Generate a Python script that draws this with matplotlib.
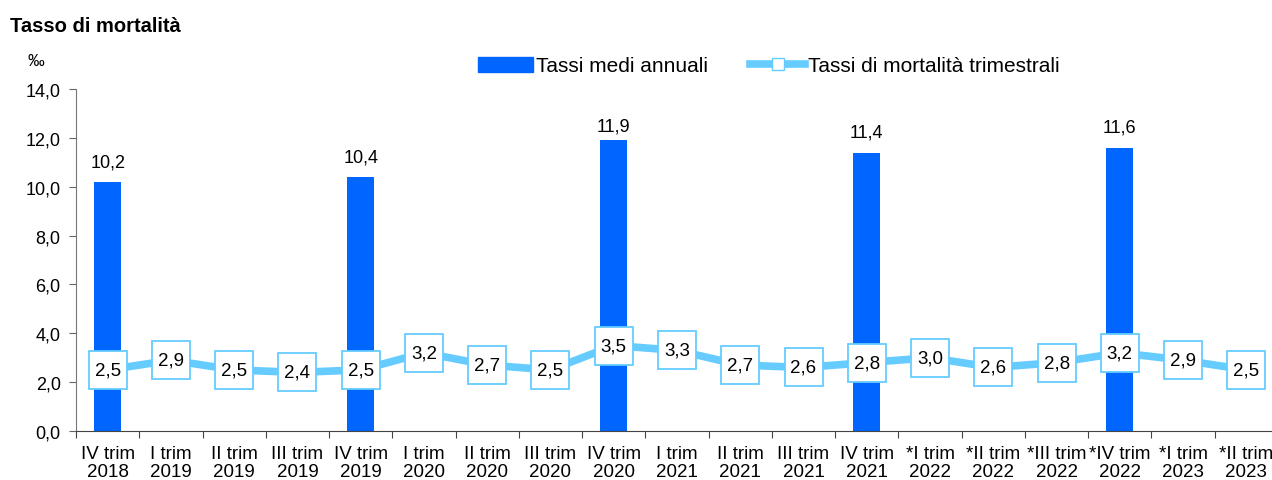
import matplotlib.pyplot as plt
from matplotlib.lines import Line2D
from matplotlib.patches import Patch

plt.rcParams['font.family'] = ['Liberation Sans', 'DejaVu Sans']

categories = ['IV trim\n2018', 'I trim\n2019', 'II trim\n2019', 'III trim\n2019', 'IV trim\n2019',
              'I trim\n2020', 'II trim\n2020', 'III trim\n2020', 'IV trim\n2020', 'I trim\n2021',
              'II trim\n2021', 'III trim\n2021', 'IV trim\n2021', '*I trim\n2022', '*II trim\n2022',
              '*III trim\n2022', '*IV trim\n2022', '*I trim\n2023', '*II trim\n2023']
trimestrali = [2.5, 2.9, 2.5, 2.4, 2.5, 3.2, 2.7, 2.5, 3.5, 3.3, 2.7, 2.6, 2.8, 3.0, 2.6, 2.8, 3.2, 2.9, 2.5]
annual_idx = [0, 4, 8, 12, 16]
annuali = [10.2, 10.4, 11.9, 11.4, 11.6]

bar_col = '#0066FF'
line_col = '#66CCFF'


def fmt(v):
    return f'{v:.1f}'.replace('.', ',')


fig = plt.figure(figsize=(12.72, 4.81), dpi=100)
ax = fig.add_axes([76 / 1272, 1 - 432 / 481, 1202 / 1272, 342 / 481])

ax.bar(annual_idx, annuali, width=0.43, color=bar_col, zorder=2)
for i, v in zip(annual_idx, annuali):
    # labels sit above the bars, but never higher than just over the 12 line
    ax.text(i, min(v + 0.48, 12.15), fmt(v), ha='center', va='bottom', fontsize=13)

x = list(range(len(trimestrali)))
ax.plot(x, trimestrali, color=line_col, lw=5.5, zorder=3, marker='s', markersize=27,
        markerfacecolor='white', markeredgecolor=line_col, markeredgewidth=1.3)
for i, v in zip(x, trimestrali):
    ax.text(i, v, fmt(v), ha='center', va='center', fontsize=13.5, zorder=4)

ax.set_xlim(-0.5, 18.5)
ax.set_ylim(0, 14)
ax.set_yticks(range(0, 15, 2))
ax.set_yticklabels([fmt(v) for v in range(0, 15, 2)], fontsize=13)
ax.set_xticks([i + 0.5 for i in range(-1, 19)])
ax.set_xticklabels([])
ax.set_xticks(x, minor=True)
ax.set_xticklabels(categories, minor=True, fontsize=13.5, linespacing=1.12)
ax.tick_params(axis='x', which='minor', length=0, pad=10)
ax.tick_params(axis='x', which='major', length=5, direction='out', color='#444444')
ax.tick_params(axis='y', length=5, direction='out', color='#666666', pad=6)
for s in ['top', 'right']:
    ax.spines[s].set_visible(False)
ax.spines['left'].set_color('#777777')
ax.spines['bottom'].set_color('#444444')

fig.text(10 / 1272, 1 - 27 / 481, 'Tasso di mortalità', fontsize=14.5, fontweight='bold', va='center')
fig.text(27 / 1272, 1 - 62 / 481, '‰', fontsize=12, va='center')

handles = [Patch(color=bar_col),
           Line2D([], [], color=line_col, lw=5.5, marker='s', markersize=8,
                  markerfacecolor='white', markeredgecolor=line_col)]
fig.legend(handles, ['Tassi medi annuali', 'Tassi di mortalità trimestrali'], ncol=2,
           loc='center', bbox_to_anchor=(769 / 1272, 1 - 67 / 481), frameon=False, fontsize=15,
           handlelength=2.65, handletextpad=0.15, columnspacing=2.0)

fig.savefig('out.png', dpi=100)
